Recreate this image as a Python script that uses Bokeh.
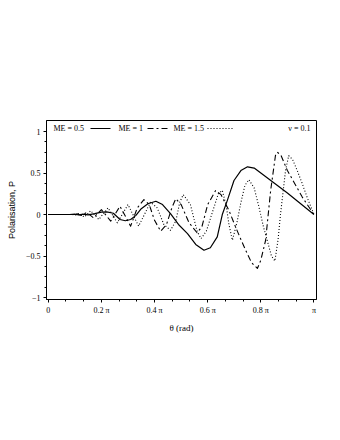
import math
from bokeh.plotting import figure
from bokeh.models import Range1d, FixedTicker, Label, Arrow
from bokeh.embed import file_html
from bokeh.resources import INLINE

# theta in units of pi
t_s = [0, 0.08, 0.1, 0.115, 0.13, 0.15, 0.175, 0.2, 0.22, 0.245, 0.27, 0.29, 0.31, 0.33, 0.35, 0.375, 0.405, 0.43, 0.46, 0.49,
       0.524, 0.555, 0.586, 0.61, 0.636, 0.655, 0.674, 0.699, 0.725, 0.75, 0.775, 0.80, 0.85, 0.90, 0.95, 1.0]
p_s = [0, 0, 0.004, -0.006, 0.004, -0.004, 0.01, 0.028, 0.032, 0.015, -0.06, -0.075, -0.06, -0.01, 0.07, 0.13, 0.16, 0.12, 0.01, -0.12,
       -0.23, -0.36, -0.43, -0.40, -0.27, 0.0, 0.17, 0.41, 0.53, 0.575, 0.56, 0.5, 0.38, 0.26, 0.13, 0.0]

t_d = [0, 0.095, 0.108, 0.125, 0.145, 0.17, 0.2, 0.235, 0.27, 0.31, 0.335, 0.36, 0.38, 0.40, 0.423, 0.445, 0.465, 0.48, 0.50, 0.53,
       0.56, 0.578, 0.60, 0.63, 0.65, 0.68, 0.705, 0.725, 0.743, 0.765, 0.787, 0.80, 0.818, 0.837, 0.855, 0.862, 0.875, 0.90, 0.93, 0.956, 1.0]
p_d = [0, 0, 0.008, -0.012, 0.025, -0.04, 0.06, -0.08, 0.10, -0.14, 0.08, 0.18, 0.12, -0.07, -0.2, -0.12, 0.08, 0.19, 0.12, -0.1,
       -0.22, -0.15, 0.12, 0.29, 0.24, 0.05, -0.15, -0.3, -0.43, -0.58, -0.65, -0.55, -0.31, 0.29, 0.71, 0.75, 0.72, 0.53, 0.36, 0.21, 0.0]

t_o = [0, 0.09, 0.103, 0.117, 0.135, 0.16, 0.19, 0.225, 0.26, 0.30, 0.34, 0.365, 0.385, 0.41, 0.435, 0.46, 0.48, 0.495, 0.508, 0.535,
       0.56, 0.575, 0.595, 0.62, 0.64, 0.655, 0.67, 0.68, 0.693, 0.71, 0.724, 0.74, 0.755, 0.775, 0.793, 0.81, 0.824, 0.84, 0.853, 0.865,
       0.874, 0.893, 0.905, 0.92, 0.937, 0.955, 0.974, 1.0]
p_o = [0, 0, -0.006, 0.015, -0.03, 0.045, -0.06, 0.08, -0.10, 0.12, -0.14, 0.02, 0.15, 0.08, -0.12, -0.19, -0.08, 0.15, 0.24, 0.12,
       -0.2, -0.29, -0.2, 0.05, 0.25, 0.29, 0.1, -0.12, -0.31, -0.1, 0.13, 0.35, 0.42, 0.32, 0.09, -0.15, -0.31, -0.5, -0.56, -0.3,
       0.0, 0.53, 0.71, 0.66, 0.53, 0.38, 0.21, 0.0]

x_tick_frac = [0, 0.2, 0.4, 0.6, 0.8, 1.0]
x_tick_labels = ["0", "0.2 \u03c0", "0.4 \u03c0", "0.6 \u03c0", "0.8 \u03c0", "\u03c0"]
y_ticks = [-1, -0.5, 0, 0.5, 1]
y_tick_labels = ["\u22121", "\u22120.5", "0", "0.5", "1"]
series_names = ["ME = 0.5", "ME = 1", "ME = 1.5"]
nu_text = "\u03bd = 0.1"

PI = math.pi
SERIF = "Liberation Serif"
DASHDOT = "6 3 2 3"
DOTTED = "1 2"

p = figure(width=324, height=424, output_backend="svg", toolbar_location=None,
           x_range=Range1d(-0.021, PI + 0.03), y_range=Range1d(-1.024, 1.133),
           min_border_left=46, min_border_right=8, min_border_top=120, min_border_bottom=125)
p.xgrid.visible = False
p.ygrid.visible = False
p.outline_line_color = "black"
p.outline_line_width = 1
p.background_fill_color = "white"
p.border_fill_color = "white"

p.line([t * PI for t in t_s], p_s, line_color="black", line_width=1.2, line_join="round")
p.line([t * PI for t in t_d], p_d, line_color="black", line_width=1.1, line_dash=DASHDOT, line_join="round")
p.line([t * PI for t in t_o], p_o, line_color="black", line_width=1.1, line_dash=DOTTED, line_join="round")

xmaj = [f * PI for f in x_tick_frac]
xmin = []
for i in range(len(x_tick_frac) - 1):
    a, b = xmaj[i], xmaj[i + 1]
    xmin += [a + (b - a) / 3, a + 2 * (b - a) / 3]
ymin = []
for i in range(len(y_ticks) - 1):
    a, b = y_ticks[i], y_ticks[i + 1]
    ymin += [a + (b - a) * k / 4 for k in (1, 2, 3)]

xa = p.xaxis[0]
xa.ticker = FixedTicker(ticks=xmaj, minor_ticks=xmin)
xa.major_label_overrides = {v: l for v, l in zip(xmaj, x_tick_labels)}
ya = p.yaxis[0]
ya.ticker = FixedTicker(ticks=y_ticks, minor_ticks=ymin)
ya.major_label_overrides = {v: l for v, l in zip(y_ticks, y_tick_labels)}

for ax in (xa, ya):
    ax.axis_line_color = "black"
    ax.major_tick_line_color = "black"
    ax.minor_tick_line_color = "black"
    ax.major_tick_in = 0
    ax.major_tick_out = 3
    ax.minor_tick_in = 0
    ax.minor_tick_out = 2
    ax.major_label_text_font = SERIF
    ax.major_label_text_font_size = "8px"
    ax.major_label_text_color = "black"
    ax.major_label_standoff = 3
    ax.axis_label_text_color = "black"

xa.axis_label = "\u03b8 (rad)"
xa.axis_label_text_font = SERIF
xa.axis_label_text_font_style = "normal"
xa.axis_label_text_font_size = "9px"
xa.axis_label_standoff = 5
ya.axis_label = "Polarisation, P"
ya.axis_label_text_font = "Liberation Sans"
ya.axis_label_text_font_style = "normal"
ya.axis_label_text_font_size = "9px"
ya.axis_label_standoff = 6

# legend row inside the top of the frame (screen units)
styles = [dict(line_dash="solid"), dict(line_dash=DASHDOT), dict(line_dash=DOTTED)]
text_x = [7, 72, 127]
line_x = [(44, 64), (101, 124), (161, 187)]
ly = 171
for name, tx, (x0, x1), st in zip(series_names, text_x, line_x, styles):
    p.add_layout(Label(x=tx, y=ly, x_units="screen", y_units="screen", text=name, text_color="black",
                       text_font=SERIF, text_font_size="8px", text_baseline="middle"))
    p.add_layout(Arrow(x_start=x0, y_start=ly, x_end=x1, y_end=ly, start_units="screen", end_units="screen",
                       start=None, end=None, line_color="black", line_width=1, **st))
p.add_layout(Label(x=264, y=ly, x_units="screen", y_units="screen", text=nu_text, text_align="right", text_color="black",
                   text_font=SERIF, text_font_size="8px", text_baseline="middle"))

open("out.html", "w").write(file_html(p, INLINE))
